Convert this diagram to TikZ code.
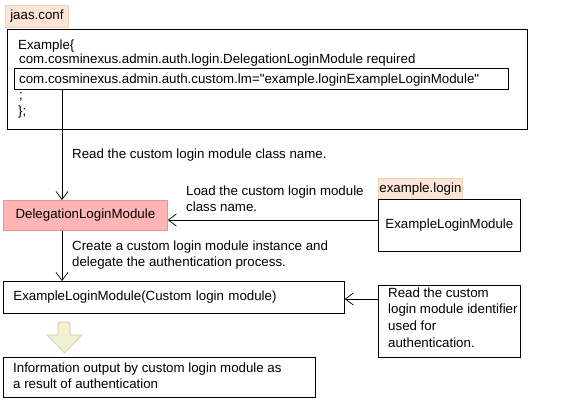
\documentclass[tikz,border=0pt]{standalone}
\usepackage{fontspec}
\setmainfont{Liberation Sans}
\newfontfamily\plainquote{Liberation Sans}
\usetikzlibrary{arrows.meta}
\definecolor{tagfill}{HTML}{FCE4D6}
\definecolor{tagline}{HTML}{F2D2B4}
\definecolor{delegfill}{HTML}{FFB5B5}
\definecolor{delegline}{HTML}{F09090}
\definecolor{blockfill}{HTML}{F1F1D2}
\definecolor{blockline}{HTML}{C9C9AA}

\begin{document}
\begin{tikzpicture}[x=1pt,y=-1pt,
	every node/.style={font=\fontsize{13.3}{16.6}\selectfont,inner sep=0pt},
	box/.style={draw=black,line width=0.8pt,anchor=north west},
	tagbox/.style={fill=tagfill,draw=tagline,line width=0.8pt,anchor=north west},
	txt/.style={anchor=base west},
	mtxt/.style={anchor=north west,align=left},
	arw/.style={line width=0.7pt,-{Straight Barb[length=8pt,width=12pt]}}]
	\useasboundingbox (0,0) rectangle (561,400);
	
	%JAAS.CONF
	\node[tagbox,minimum width=63,minimum height=22] (jaastag) at (5,5) {jaas.conf};
	\node[box,minimum width=520,minimum height=100] (conf) at (7,29) {};
	\node[txt] (exline) at (18,49) {Example\{};
	\node[txt] (reqline) at (19,63) {com.cosminexus.admin.auth.login.DelegationLoginModule required};
	\node[box,minimum width=494,minimum height=21] (lmline) at (14,68) {};
	\node[txt] (lmtxt) at (19,83) {\plainquote com.cosminexus.admin.auth.custom.lm="example.loginExampleLoginModule"};
	\node[txt] (semiline) at (19,99) {;};
	\node[txt] (endline) at (18,115) {\};};
	
	%MODULES
	\node[box,fill=delegfill,draw=delegline,minimum width=164,minimum height=30] (deleg) at (3,200) {DelegationLoginModule};
	\node[tagbox,minimum width=84,minimum height=21] (logintag) at (378,178) {example.login};
	\node[box,minimum width=142,minimum height=52] (exlm) at (378,199) {ExampleLoginModule};
	\node[box,minimum width=341,minimum height=32,text width=321,inner xsep=10,align=left] (custom) at (3,281) {ExampleLoginModule(Custom login module)};
	\node[box,minimum width=142,minimum height=72] (readid) at (378,285) {};
	\node[mtxt] (readtxt) at (388,287.5) {Read the custom\\login module identifier\\used for\\authentication.};
	\node[box,minimum width=312,minimum height=40] (result) at (3,357) {};
	\node[mtxt] (resulttxt) at (13,362.5) {Information output by custom login module as\\a result of authentication};
	
	%ARROWS
	\draw[arw] (lmline.south -| 62,0) -- (deleg.north -| 62,0);
	\draw[arw] (exlm.west |- 0,220) -- (deleg.east |- 0,220);
	\draw[arw] (deleg.south -| 62,0) -- (custom.north -| 62,0);
	\draw[arw] (readid.west |- 0,299) -- (custom.east |- 0,299);
	\draw[fill=blockfill,draw=blockline,line width=0.6pt] (58,322)--(70,322)--(70,335)--(82,335)--(64.5,353)--(47,335)--(58,335)--cycle;
	
	%CAPTIONS
	\node[txt] (readcap) at (72,158) {Read the custom login module class name.};
	\node[mtxt] (loadcap) at (186,185.5) {Load the custom login module\\class name.};
	\node[mtxt] (createcap) at (72,240.5) {Create a custom login module instance and\\delegate the authentication process.};
\end{tikzpicture}
\end{document}
